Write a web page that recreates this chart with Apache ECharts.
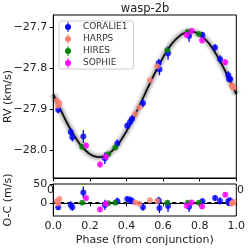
<!DOCTYPE html>
<html><head><meta charset="utf-8">
<script src="https://cdn.jsdelivr.net/npm/echarts@6/dist/echarts.min.js"></script>
<style>html,body{margin:0;padding:0;background:#fff}#c{width:249px;height:249px}</style>
</head><body><div id="c"></div><script>
const phaseTicks = [0, 0.2, 0.4, 0.6, 0.8, 1.0];
const rvTicks = [-28.0, -27.9, -27.8, -27.7];
const resTicks = [0, 50];

const modelPhase = [0,0.025,0.05,0.075,0.1,0.125,0.15,0.175,0.2,0.225,0.25,0.275,0.3,0.325,0.35,0.375,0.4,0.425,0.45,0.475,0.5,0.525,0.55,0.575,0.6,0.625,0.65,0.675,0.7,0.725,0.75,0.775,0.8,0.825,0.85,0.875,0.9,0.925,0.95,0.975,1.0];
const modelRV = [-27.863,-27.887,-27.910,-27.933,-27.953,-27.971,-27.987,-27.999,-28.009,-28.014,-28.016,-28.014,-28.009,-27.999,-27.987,-27.971,-27.953,-27.933,-27.910,-27.887,-27.863,-27.839,-27.816,-27.794,-27.773,-27.755,-27.739,-27.727,-27.718,-27.712,-27.710,-27.712,-27.718,-27.727,-27.739,-27.755,-27.773,-27.794,-27.816,-27.839,-27.863];

const coraliePhase = [0.027,0.095,0.104,0.164,0.282,0.350,0.404,0.420,0.430,0.490,0.576,0.580,0.627,0.742,0.815,0.884,0.911,0.956,0.960,0.967];
const coralieRV = [-27.901,-27.955,-27.968,-27.966,-28.019,-27.983,-27.940,-27.930,-27.923,-27.885,-27.787,-27.803,-27.763,-27.721,-27.719,-27.749,-27.778,-27.817,-27.826,-27.826];
const coralieErr = [0.008,0.010,0.010,0.016,0.014,0.010,0.008,0.010,0.010,0.010,0.010,0.014,0.016,0.014,0.008,0.008,0.010,0.010,0.008,0.008];
const coralieRes = [-12,-6,-12,28,-6,4,10,7,5,-12,6,-14,-9,-11,4,13,5,4,-1,6];
const coralieResErr = [8,10,10,16,14,10,8,10,10,10,10,14,16,14,8,8,10,10,8,8];

const harpsPhase = [0.020,0.027,0.033,0.448,0.470,0.528,0.568,0.975,0.980,0.985];
const harpsRV = [-27.878,-27.891,-27.885,-27.911,-27.895,-27.829,-27.795,-27.841,-27.844,-27.847];
const harpsErr = [0.002,0.002,0.002,0.002,0.002,0.002,0.002,0.002,0.002,0.002];
const harpsRes = [4,-2,10,1,-3,7,5,-2,0,2];
const harpsResErr = [2,2,2,2,2,2,2,2,2,2];

const hiresPhase = [0.158,0.300,0.339,0.623,0.735,0.795];
const hiresRV = [-27.991,-28.009,-27.993,-27.756,-27.711,-27.716];
const hiresErr = [0.003,0.003,0.003,0.003,0.003,0.003];
const hiresRes = [0,-1,0,0,0,0];
const hiresResErr = [3,3,3,3,3,3];

const sophiePhase = [0.179,0.255,0.287,0.729,0.756,0.813,0.940];
const sophieRV = [-27.988,-28.034,-28.015,-27.719,-27.709,-27.732,-27.785];
const sophieErr = [0.007,0.007,0.007,0.007,0.007,0.007,0.007];
const sophieRes = [13,-18,-3,-8,1,-10,22];
const sophieResErr = [7,7,7,7,7,7,7];

const instruments = [
  {name:'CORALIE1', color:'#0000ff', ph:coraliePhase, rv:coralieRV, e:coralieErr, r:coralieRes, re:coralieResErr},
  {name:'HARPS', color:'#fa8072', ph:harpsPhase, rv:harpsRV, e:harpsErr, r:harpsRes, re:harpsResErr},
  {name:'HIRES', color:'#008000', ph:hiresPhase, rv:hiresRV, e:hiresErr, r:hiresRes, re:hiresResErr},
  {name:'SOPHIE', color:'#ff00ff', ph:sophiePhase, rv:sophieRV, e:sophieErr, r:sophieRes, re:sophieResErr}
];

const FONT = 'DejaVu Sans';
const TXT = '#222';
const fmtMinus = v => v.toFixed(1).replace('-', '\u2212');

function errRender(params, api) {
  const x = api.value(0), y = api.value(1), e = api.value(2);
  const p1 = api.coord([x, y - e]), p2 = api.coord([x, y + e]);
  return {type:'line', shape:{x1:p1[0], y1:p1[1], x2:p2[0], y2:p2[1]},
    style:{stroke: api.visual('color'), lineWidth: 1.3}};
}

const modelData = modelPhase.map((p, i) => [p, modelRV[i]]);
const series = [];
[[10,'rgba(0,0,0,0.06)'],[7,'rgba(0,0,0,0.10)'],[4,'rgba(0,0,0,0.18)']].forEach(([w,c]) => {
  series.push({type:'line', xAxisIndex:0, yAxisIndex:0, data:modelData, smooth:true, symbol:'none',
    lineStyle:{width:w, color:c, cap:'butt'}, silent:true, z:1});
});
series.push({type:'line', xAxisIndex:0, yAxisIndex:0, data:modelData, smooth:true, symbol:'none',
  lineStyle:{width:1.6, color:'#000'}, silent:true, z:2});
series.push({type:'line', xAxisIndex:1, yAxisIndex:1, data:[[0,0],[1,0]], symbol:'none',
  lineStyle:{width:1.3, color:'#000', type:[4,3]}, silent:true, z:1});

instruments.forEach((ins, k) => {
  const main = ins.ph.map((p, i) => [p, ins.rv[i], ins.e[i]]);
  const res = ins.ph.map((p, i) => [p, ins.r[i], ins.re[i]]);
  series.push({name:ins.name, type:'custom', xAxisIndex:0, yAxisIndex:0, data:main, renderItem:errRender,
    itemStyle:{color:ins.color}, z:3+k, clip:true});
  series.push({name:ins.name, type:'scatter', xAxisIndex:0, yAxisIndex:0, data:main, symbol:'circle', symbolSize:6,
    itemStyle:{color:ins.color}, z:3+k});
  series.push({name:ins.name, type:'custom', xAxisIndex:1, yAxisIndex:1, data:res, renderItem:errRender,
    itemStyle:{color:ins.color}, z:3+k, clip:true});
  series.push({name:ins.name, type:'scatter', xAxisIndex:1, yAxisIndex:1, data:res, symbol:'circle', symbolSize:6,
    itemStyle:{color:ins.color}, z:3+k});
});

const axLine = {show:true, lineStyle:{color:'#000', width:1}};
const tick = {show:true, inside:false, length:3.5, lineStyle:{color:'#000', width:1}};

const option = {
  animation:false,
  backgroundColor:'#fff',
  title:{text:'wasp-2b', left:145, top:3, padding:0, textAlign:'center',
    textStyle:{fontFamily:FONT, fontSize:11.5, fontWeight:'normal', color:TXT}},
  legend:{
    data: instruments.map(ins => ({name:ins.name,
      icon:'path://M4.5,0H5.5V10H4.5Z M2,5A3,3 0 1 1 8,5A3,3 0 1 1 2,5Z'})),
    orient:'vertical', left:59, top:21, itemWidth:10, itemHeight:10, itemGap:2,
    padding:[1,6,1,6], borderColor:'#ccc', borderWidth:1, borderRadius:3, backgroundColor:'#fff',
    textStyle:{fontFamily:FONT, fontSize:9, color:'#333', padding:[0,0,0,5]},
    z:20
  },
  grid:[
    {left:53.3, top:15, width:183, height:163, outerBoundsMode:'none', containLabel:false,
      show:true, borderColor:'#000', borderWidth:1, backgroundColor:'transparent'},
    {left:53.3, top:184, width:183, height:32, outerBoundsMode:'none', containLabel:false,
      show:true, borderColor:'#000', borderWidth:1, backgroundColor:'transparent'}
  ],
  xAxis:[
    {gridIndex:0, type:'value', min:0, max:1, axisLine:axLine, axisTick:{...tick, customValues:phaseTicks},
      axisLabel:{show:false}, splitLine:{show:false}},
    {gridIndex:1, type:'value', min:0, max:1, axisLine:axLine, axisTick:{...tick, customValues:phaseTicks},
      axisLabel:{customValues:phaseTicks, formatter:v => v.toFixed(1), fontFamily:FONT, fontSize:11, color:TXT, margin:5},
      splitLine:{show:false},
      name:'Phase (from conjunction)', nameLocation:'middle', nameGap:19, nameMoveOverlap:false,
      nameTextStyle:{fontFamily:FONT, fontSize:11, color:TXT}}
  ],
  yAxis:[
    {gridIndex:0, type:'value', min:-28.067, max:-27.670, axisLine:axLine, axisTick:{...tick, customValues:rvTicks},
      axisLabel:{customValues:rvTicks, formatter:fmtMinus, fontFamily:FONT, fontSize:11, color:TXT, margin:6},
      splitLine:{show:false},
      name:'RV (km/s)', nameLocation:'middle', nameGap:40, nameRotate:90, nameMoveOverlap:false,
      nameTextStyle:{fontFamily:FONT, fontSize:11, color:TXT}},
    {gridIndex:1, type:'value', min:-36, max:51, axisLine:axLine, axisTick:{...tick, customValues:resTicks},
      axisLabel:{customValues:resTicks, formatter:v => String(v), fontFamily:FONT, fontSize:11, color:TXT, margin:6},
      splitLine:{show:false},
      name:'O-C (m/s)', nameLocation:'middle', nameGap:40, nameRotate:90, nameMoveOverlap:false,
      nameTextStyle:{fontFamily:FONT, fontSize:11, color:TXT}}
  ],
  graphic:[
    {type:'text', left:47, top:185, style:{text:'0', font:'11px "DejaVu Sans"', fill:TXT}, z:0},
    {type:'text', left:237, top:185, style:{text:'0', font:'11px "DejaVu Sans"', fill:TXT}, z:0}
  ],
  series
};
echarts.init(document.getElementById('c')).setOption(option);
</script></body></html>
